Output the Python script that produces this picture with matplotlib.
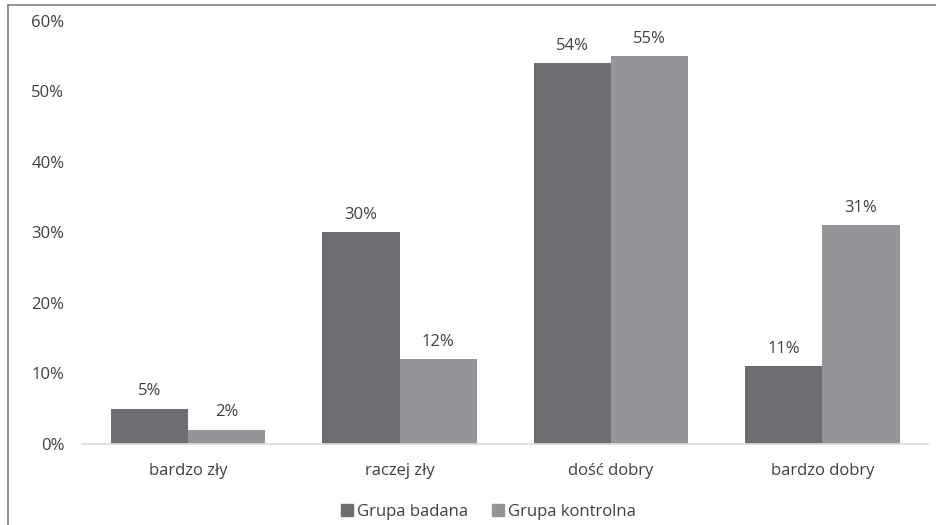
import numpy as np
import matplotlib
matplotlib.use("Agg")
import matplotlib.pyplot as plt
from matplotlib.lines import Line2D

# data
categories = ["bardzo zły", "raczej zły", "dość dobry", "bardzo dobry"]
grupa_badana = [5, 30, 54, 11]
grupa_kontrolna = [2, 12, 55, 31]
series_names = ["Grupa badana", "Grupa kontrolna"]

dark = "#6d6e71"
light = "#939598"
txt = "#404040"

plt.rcParams["font.family"] = ["Open Sans", "DejaVu Sans"]

fig = plt.figure(figsize=(9.36, 5.25), dpi=100)
ax = fig.add_axes([0.0881, 0.1543, 0.9034, 0.8057])

x = np.arange(len(categories))
w = 0.365
b1 = ax.bar(x - w / 2, grupa_badana, w, color=dark)
b2 = ax.bar(x + w / 2, grupa_kontrolna, w, color=light)

for bars, vals in [(b1, grupa_badana), (b2, grupa_kontrolna)]:
    for r, v in zip(bars, vals):
        ax.annotate(f"{v}%", (r.get_x() + r.get_width() / 2, v),
                    xytext=(0, 7), textcoords="offset points",
                    ha="center", va="bottom", fontsize=12, color=txt)

ax.set_xlim(-0.5, len(categories) - 0.5)
ax.set_ylim(0, 60)
ax.set_yticks(range(0, 61, 10))
ax.set_yticklabels([f"{t}%" for t in range(0, 61, 10)])
ax.set_xticks(x)
ax.set_xticklabels(categories)
ax.tick_params(axis="both", length=0, labelsize=12, colors=txt)
ax.tick_params(axis="y", pad=13)
ax.tick_params(axis="x", pad=13.5)

for s in ["top", "right", "left"]:
    ax.spines[s].set_visible(False)
ax.spines["bottom"].set_color("#d9d9d9")
ax.spines["bottom"].set_linewidth(1.2)

handles = [Line2D([], [], marker="s", linestyle="none", markersize=9, color=c)
           for c in (dark, light)]
fig.legend(handles, series_names, loc="center", bbox_to_anchor=(0.521, 0.025),
           ncol=2, frameon=False, fontsize=12, labelcolor=txt,
           handlelength=0.9, handletextpad=0.15, columnspacing=1.3)

# outer frame (left and top edges visible in the reference)
fig.add_artist(Line2D([0.0085, 0.0085], [0, 0.99], transform=fig.transFigure,
                      color="#808080", linewidth=1.2))
fig.add_artist(Line2D([0.0085, 1], [0.99, 0.99], transform=fig.transFigure,
                      color="#808080", linewidth=1.2))

fig.savefig("out.png", dpi=100)
